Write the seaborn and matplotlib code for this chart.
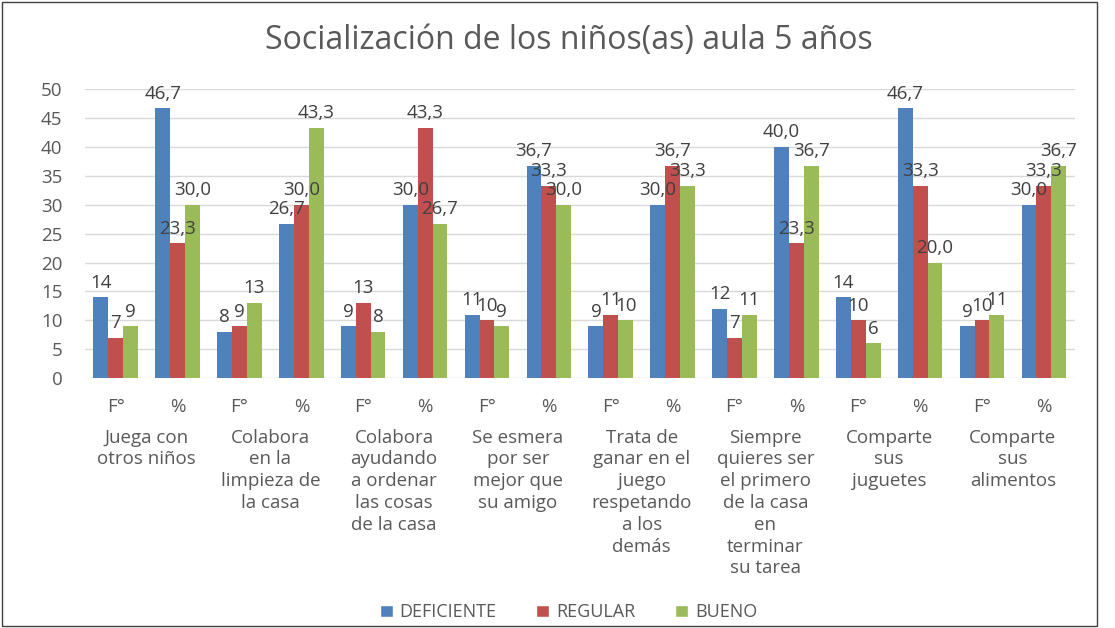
import matplotlib
matplotlib.use("Agg")
from matplotlib import pyplot as plt
from matplotlib.patches import Rectangle
import pandas as pd
import seaborn as sns

# data
categories = [
    "Juega con\notros niños",
    "Colabora\nen la\nlimpieza de\nla casa",
    "Colabora\nayudando\na ordenar\nlas cosas\nde la casa",
    "Se esmera\npor ser\nmejor que\nsu amigo",
    "Trata de\nganar en el\njuego\nrespetando\na los\ndemás",
    "Siempre\nquieres ser\nel primero\nde la casa\nen\nterminar\nsu tarea",
    "Comparte\nsus\njuguetes",
    "Comparte\nsus\nalimentos",
]
sub_labels = ["F°", "%"]
series = ["DEFICIENTE", "REGULAR", "BUENO"]
deficiente_f = [14, 8, 9, 11, 9, 12, 14, 9]
deficiente_p = [46.7, 26.7, 30.0, 36.7, 30.0, 40.0, 46.7, 30.0]
regular_f = [7, 9, 13, 10, 11, 7, 10, 10]
regular_p = [23.3, 30.0, 43.3, 33.3, 36.7, 23.3, 33.3, 33.3]
bueno_f = [9, 13, 8, 9, 10, 11, 6, 11]
bueno_p = [30.0, 43.3, 26.7, 30.0, 33.3, 36.7, 20.0, 36.7]
colors = ["#4F81BD", "#C0504D", "#9BBB59"]

rows = []
for s, f_vals, p_vals in [
    ("DEFICIENTE", deficiente_f, deficiente_p),
    ("REGULAR", regular_f, regular_p),
    ("BUENO", bueno_f, bueno_p),
]:
    for i in range(len(categories)):
        rows.append({"grupo": f"{i}F", "serie": s, "valor": f_vals[i], "tipo": "F"})
        rows.append({"grupo": f"{i}P", "serie": s, "valor": p_vals[i], "tipo": "P"})
df = pd.DataFrame(rows)
order = [f"{i}{t}" for i in range(len(categories)) for t in ("F", "P")]

sns.set_theme(style="white")
plt.rcParams["font.family"] = ["Open Sans", "DejaVu Sans"]
text_color = "#595959"

fig = plt.figure(figsize=(11.15, 6.28), dpi=100)
ax = fig.add_axes([0.076, 0.398, 0.888, 0.46])

sns.barplot(
    data=df, x="grupo", y="valor", hue="serie", order=order,
    hue_order=series, palette=colors, width=0.72, ax=ax,
    saturation=1, legend=True,
)

for cont, s in zip(ax.containers, series):
    sub = df[df["serie"] == s].set_index("grupo").loc[order]
    labels = [
        f"{v:.0f}" if t == "F" else f"{v:.1f}".replace(".", ",")
        for v, t in zip(sub["valor"], sub["tipo"])
    ]
    for bar in cont:
        bar.set_edgecolor("none")
    ax.bar_label(cont, labels=labels, padding=4, fontsize=13.5, color="#404040")

ax.set_ylim(0, 50)
ax.set_yticks(range(0, 51, 5))
ax.set_xlim(-0.5, len(order) - 0.5)
ax.yaxis.grid(True, color="#D9D9D9", linewidth=1)
ax.set_axisbelow(True)
for sp in ax.spines.values():
    sp.set_visible(False)
ax.set_xlabel("")
ax.set_ylabel("")
ax.set_xticks(range(len(order)))
ax.set_xticklabels(sub_labels * len(categories))
ax.tick_params(axis="x", length=0, pad=14, labelsize=13.5, labelcolor=text_color)
ax.tick_params(axis="y", length=0, pad=16, labelsize=13.5, labelcolor=text_color)

for i, cat in enumerate(categories):
    ax.text(2 * i + 0.5, -0.175, cat, transform=ax.get_xaxis_transform(),
            ha="center", va="top", fontsize=13.5, color=text_color,
            linespacing=1.27)

ax.legend_.remove()
handles, labels = ax.get_legend_handles_labels()
fig.legend(handles[:3], series, loc="center", bbox_to_anchor=(0.51, 0.025),
           ncol=3, frameon=False, fontsize=13, handlelength=0.7,
           handleheight=0.7, columnspacing=2.2, handletextpad=0.4,
           labelcolor=text_color)

fig.text(0.51, 0.936, "Socialización de los niños(as) aula 5 años",
         ha="center", va="center", fontsize=23, color=text_color)

fig.patches.append(Rectangle((0.002, 0.003), 0.982, 0.994, transform=fig.transFigure,
                             fill=False, edgecolor="#404040", linewidth=1))

fig.savefig("out.png", dpi=100)
